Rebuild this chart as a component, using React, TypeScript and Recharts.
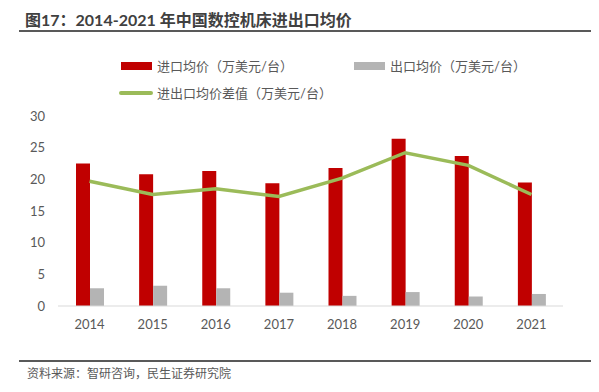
import React from "react"
import { Bar, ComposedChart, Line, XAxis, YAxis } from "recharts"

const years = ["2014", "2015", "2016", "2017", "2018", "2019", "2020", "2021"]
const importPrice = [22.5, 20.8, 21.3, 19.4, 21.8, 26.4, 23.7, 19.5]
const exportPrice = [2.8, 3.2, 2.8, 2.1, 1.6, 2.2, 1.5, 1.9]
const priceGap = [19.7, 17.6, 18.5, 17.3, 20.2, 24.2, 22.2, 17.6]
const yTicks = [0, 5, 10, 15, 20, 25, 30]

const RED = "#C00000"
const GRAY = "#B4B4B4"
const GREEN = "#9BBB59"
const FONT = "Lato, 'Noto Sans CJK SC', sans-serif"

const data = years.map((year, i) => ({
  year,
  importPrice: importPrice[i],
  exportPrice: exportPrice[i],
  priceGap: priceGap[i],
}))

const legendText: React.CSSProperties = {
  position: "absolute",
  fontSize: 13,
  color: "#595959",
  lineHeight: "16px",
  whiteSpace: "nowrap",
}

export default function App() {
  return (
    <div
      style={{
        position: "absolute",
        left: 0,
        top: 0,
        width: 599,
        height: 392,
        background: "#fff",
        fontFamily: FONT,
      }}
    >
      <div
        style={{
          position: "absolute",
          left: 25,
          top: 7,
          fontSize: 16,
          fontWeight: 700,
          color: "#404040",
          whiteSpace: "nowrap",
        }}
      >
        图17：2014-2021 年中国数控机床进出口均价
      </div>
      <div style={{ position: "absolute", left: 19, top: 30, width: 572, height: 2, background: "#595959" }} />

      {/* legend */}
      <div style={{ position: "absolute", left: 121, top: 62, width: 31, height: 8, background: RED }} />
      <div style={{ ...legendText, left: 157, top: 58 }}>进口均价（万美元/台）</div>
      <div style={{ position: "absolute", left: 354, top: 62, width: 31, height: 8, background: GRAY }} />
      <div style={{ ...legendText, left: 390, top: 58 }}>出口均价（万美元/台）</div>
      <div style={{ position: "absolute", left: 119, top: 91, width: 34, height: 3.5, background: GREEN, borderRadius: 2 }} />
      <div style={{ ...legendText, left: 157, top: 85 }}>进出口均价差值（万美元/台）</div>

      <div style={{ position: "absolute", left: 0, top: 0 }}>
        <ComposedChart
          width={599}
          height={392}
          data={data}
          margin={{ top: 116, right: 36, bottom: 56, left: 18 }}
          barGap={0}
          barSize={14}
        >
          <XAxis
            dataKey="year"
            height={30}
            tickLine={false}
            tickSize={0}
            tickMargin={14}
            axisLine={{ stroke: "#D9D9D9", strokeWidth: 1 }}
            tick={{ fill: "#595959", fontSize: 13, fontFamily: FONT }}
          />
          <YAxis
            width={40}
            domain={[0, 30]}
            ticks={yTicks}
            interval={0}
            axisLine={false}
            tickLine={false}
            tickSize={0}
            tickMargin={13}
            tick={{ fill: "#595959", fontSize: 13, fontFamily: FONT }}
          />
          <Bar dataKey="importPrice" fill={RED} isAnimationActive={false} />
          <Bar dataKey="exportPrice" fill={GRAY} isAnimationActive={false} />
          <Line
            dataKey="priceGap"
            type="linear"
            stroke={GREEN}
            strokeWidth={3.5}
            dot={false}
            activeDot={false}
            isAnimationActive={false}
          />
        </ComposedChart>
      </div>

      <div style={{ position: "absolute", left: 19, top: 360, width: 572, height: 2, background: "#595959" }} />
      <div
        style={{
          position: "absolute",
          left: 27,
          top: 364,
          fontSize: 12,
          color: "#595959",
          whiteSpace: "nowrap",
        }}
      >
        资料来源：智研咨询，民生证券研究院
      </div>
    </div>
  )
}
